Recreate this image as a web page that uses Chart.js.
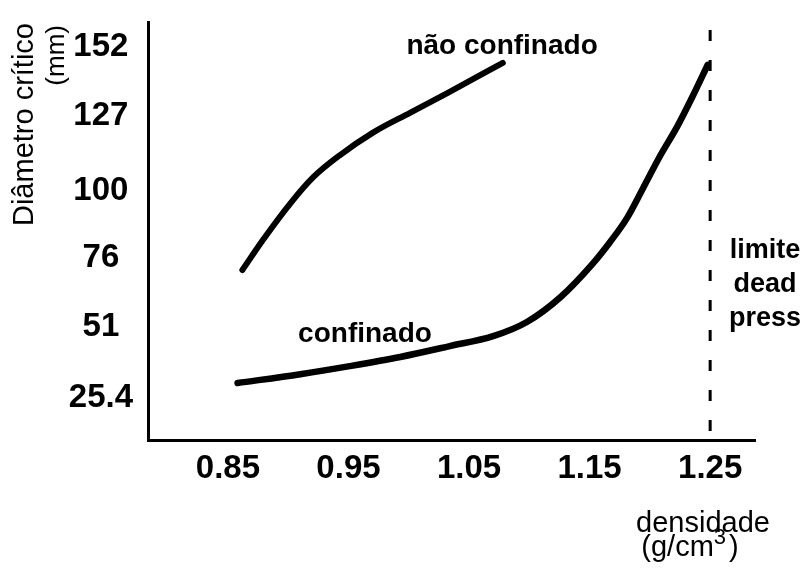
<!DOCTYPE html>
<html>
<head>
<meta charset="utf-8">
<script src="https://cdn.jsdelivr.net/npm/chart.js@4"></script>
<style>
  body { margin: 0; background: #fff; }
  canvas { display: block; }
</style>
</head>
<body>
<canvas id="chart" width="809" height="572"></canvas>
<script>
// eixo x: densidade (g/cm3), eixo y: diâmetro crítico (mm)
const xTicks = [0.85, 0.95, 1.05, 1.15, 1.25];
const xTickLabels = ['0.85', '0.95', '1.05', '1.15', '1.25'];
const yTicks = [25.4, 51, 76, 100, 127, 152];
const yTickLabels = ['25.4', '51', '76', '100', '127', '152'];

// curva "não confinado"
const naoDens = [0.862, 0.879, 0.902, 0.921, 0.943, 0.970, 1.001, 1.032, 1.078];
const naoDiam = [71.6, 82.4, 95.7, 105.1, 113.0, 121.0, 128.2, 135.3, 146.2];

// curva "confinado"
const confDens = [0.858, 0.910, 0.951, 0.993, 1.034, 1.070, 1.098, 1.126, 1.153, 1.167, 1.181, 1.194, 1.208, 1.223, 1.236, 1.248];
const confDiam = [30.9, 34.1, 37.0, 40.3, 44.2, 47.8, 52.9, 61.9, 74.1, 81.7, 90.3, 100.8, 112.3, 123.5, 134.6, 145.5];

// limite dead press
const limiteDens = [1.25, 1.25];
const limiteDiam = [158, 10.4];

const FONT = '"Liberation Sans", Arial, sans-serif';

function toPoints(xs, ys) {
    return xs.map((x, i) => ({ x: x, y: ys[i] }));
}

// textos dentro e fora do gráfico
const textPlugin = {
    id: 'textos',
    afterDraw(chart) {
        const ctx = chart.ctx;
        const sx = chart.scales.x;
        const sy = chart.scales.y;
        ctx.save();
        ctx.fillStyle = '#000';
        ctx.textBaseline = 'alphabetic';
        ctx.textAlign = 'center';

        ctx.font = 'bold 28px ' + FONT;
        ctx.fillText('não confinado', sx.getPixelForValue(1.0774), sy.getPixelForValue(149.4));
        ctx.fillText('confinado', sx.getPixelForValue(0.9637), sy.getPixelForValue(45.7));
        ctx.font = 'bold 27px ' + FONT;
        ctx.fillText('limite', sx.getPixelForValue(1.2955), sy.getPixelForValue(75.9));
        ctx.fillText('dead', sx.getPixelForValue(1.2955), sy.getPixelForValue(63.7));
        ctx.fillText('press', sx.getPixelForValue(1.2955), sy.getPixelForValue(51.4));

        // título do eixo x
        ctx.font = '29px ' + FONT;
        ctx.fillText('densidade', 703, 532);
        ctx.textAlign = 'left';
        const p1 = '(g/cm';
        const w1 = ctx.measureText(p1).width;
        ctx.font = '22px ' + FONT;
        const w2 = ctx.measureText('3').width;
        ctx.font = '29px ' + FONT;
        const w3 = ctx.measureText(')').width;
        let x0 = 690 - (w1 + w2 + 3 + w3) / 2;
        ctx.fillText(p1, x0, 556);
        ctx.font = '22px ' + FONT;
        ctx.fillText('3', x0 + w1, 544);
        ctx.font = '29px ' + FONT;
        ctx.fillText(')', x0 + w1 + w2 + 3, 556);

        // título do eixo y (rotacionado)
        ctx.textAlign = 'right';
        ctx.font = '29px ' + FONT;
        ctx.save();
        ctx.translate(33, 23);
        ctx.rotate(-Math.PI / 2);
        ctx.fillText('Diâmetro crítico', 0, 0);
        ctx.restore();
        ctx.font = '26px ' + FONT;
        ctx.save();
        ctx.translate(64, 25);
        ctx.rotate(-Math.PI / 2);
        ctx.fillText('(mm)', 0, 0);
        ctx.restore();

        ctx.restore();
    }
};

const bg = {
    id: 'bg',
    beforeDraw(chart) {
        const ctx = chart.ctx;
        ctx.save();
        ctx.fillStyle = '#fff';
        ctx.fillRect(0, 0, chart.width, chart.height);
        ctx.restore();
    }
};

const ctx = document.getElementById('chart').getContext('2d');
new Chart(ctx, {
    type: 'line',
    data: {
        datasets: [
            {
                label: 'não confinado',
                data: toPoints(naoDens, naoDiam),
                borderColor: '#000',
                borderWidth: 6,
                borderCapStyle: 'round',
                borderJoinStyle: 'round',
                pointRadius: 0,
                cubicInterpolationMode: 'monotone'
            },
            {
                label: 'confinado',
                data: toPoints(confDens, confDiam),
                borderColor: '#000',
                borderWidth: 6.5,
                borderCapStyle: 'round',
                borderJoinStyle: 'round',
                pointRadius: 0,
                cubicInterpolationMode: 'monotone'
            },
            {
                label: 'limite dead press',
                data: toPoints(limiteDens, limiteDiam),
                borderColor: '#000',
                borderWidth: 3,
                borderDash: [11, 19],
                pointRadius: 0,
                tension: 0
            }
        ]
    },
    options: {
        responsive: false,
        animation: false,
        devicePixelRatio: 1,
        layout: {
            padding: { left: 66, right: 54, top: 22, bottom: 72 }
        },
        plugins: {
            legend: { display: false },
            tooltip: { enabled: false }
        },
        scales: {
            x: {
                type: 'linear',
                min: 0.7837,
                max: 1.2872,
                grid: { display: false, drawTicks: false },
                border: { display: true, color: '#000', width: 3 },
                afterBuildTicks: (scale) => {
                    scale.ticks = xTicks.map(v => ({ value: v }));
                },
                afterFit: (scale) => {
                    scale.height = 60;
                    scale.paddingLeft = 0;
                    scale.paddingRight = 0;
                },
                ticks: {
                    color: '#000',
                    padding: 12,
                    maxRotation: 0,
                    font: { family: FONT, size: 33, weight: 'bold', lineHeight: 1 },
                    callback: (value) => xTickLabels[xTicks.indexOf(value)]
                }
            },
            y: {
                type: 'linear',
                min: 10.4,
                max: 160.9,
                grid: { display: false, drawTicks: false },
                border: { display: true, color: '#000', width: 3 },
                afterBuildTicks: (scale) => {
                    scale.ticks = yTicks.map(v => ({ value: v }));
                },
                afterFit: (scale) => {
                    scale.width = 82;
                    scale.paddingTop = 0;
                    scale.paddingBottom = 0;
                },
                ticks: {
                    color: '#000',
                    padding: 15,
                    crossAlign: 'center',
                    font: { family: FONT, size: 33, weight: 'bold', lineHeight: 1 },
                    callback: (value) => yTickLabels[yTicks.indexOf(value)]
                }
            }
        }
    },
    plugins: [bg, textPlugin]
});
</script>
</body>
</html>
